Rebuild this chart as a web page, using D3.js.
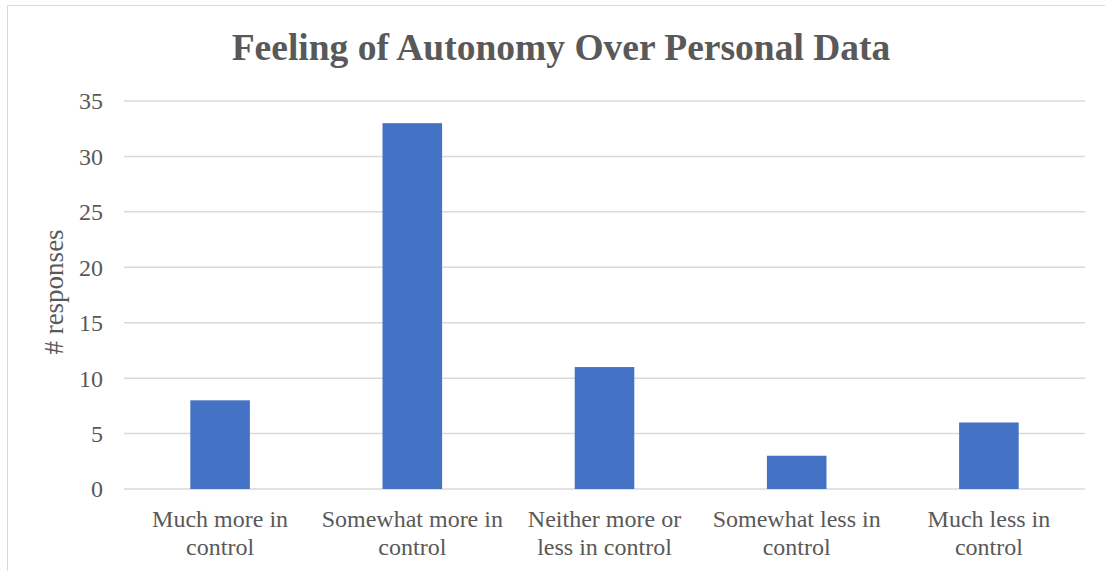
<!DOCTYPE html>
<html>
<head>
<meta charset="utf-8">
<script src="https://cdn.jsdelivr.net/npm/d3@7"></script>
<style>
  body { margin: 0; background: #fff; }
  svg text { font-family: "Liberation Serif", "Times New Roman", serif; fill: #595959; }
</style>
</head>
<body>
<svg width="1105" height="571"></svg>
<script>
const categories = [
  ["Much more in", "control"],
  ["Somewhat more in", "control"],
  ["Neither more or", "less in control"],
  ["Somewhat less in", "control"],
  ["Much less in", "control"]
];
const responses = [8, 33, 11, 3, 6];
const yTicks = [0, 5, 10, 15, 20, 25, 30, 35];

const svg = d3.select("svg"),
  margin = {top: 101, right: 20, bottom: 82, left: 124},
  width = 1085 - margin.left,
  height = 489 - margin.top;

// chart frame (cropped on the right and bottom)
svg.append("rect")
  .attr("x", 7.5).attr("y", 5.5)
  .attr("width", 1120).attr("height", 600)
  .attr("fill", "none")
  .attr("stroke", "#d9d9d9");

const x = d3.scaleBand().domain(d3.range(categories.length)).range([0, width]).paddingInner(0.69).paddingOuter(0.345),
  y = d3.scaleLinear().domain([0, 35]).range([height, 0]);

const g = svg.append("g")
  .attr("transform", "translate(" + margin.left + "," + margin.top + ")");

// gridlines
g.selectAll(".grid")
  .data(yTicks)
  .enter().append("line")
  .attr("x1", 0).attr("x2", width)
  .attr("y1", d => y(d)).attr("y2", d => y(d))
  .attr("stroke", "#d9d9d9")
  .attr("stroke-width", 1.5);

// y tick labels
g.selectAll(".ytick")
  .data(yTicks)
  .enter().append("text")
  .attr("x", -21)
  .attr("y", d => y(d))
  .attr("dy", "0.35em")
  .attr("text-anchor", "end")
  .attr("font-size", 24)
  .text(d => d);

// bars
g.selectAll(".bar")
  .data(responses)
  .enter().append("rect")
  .attr("class", "bar")
  .attr("x", (d, i) => x(i))
  .attr("y", d => y(d))
  .attr("width", x.bandwidth())
  .attr("height", d => height - y(d))
  .attr("fill", "#4472c4");

// category labels
const lbl = g.selectAll(".xlabel")
  .data(categories)
  .enter().append("text")
  .attr("text-anchor", "middle")
  .attr("font-size", 24)
  .attr("transform", (d, i) => "translate(" + (x(i) + x.bandwidth() / 2) + "," + (height + 38) + ")");
lbl.selectAll("tspan")
  .data(d => d)
  .enter().append("tspan")
  .attr("x", 0)
  .attr("dy", (d, i) => i === 0 ? 0 : 28)
  .text(d => d);

// y axis title
svg.append("text")
  .attr("transform", "translate(63,292) rotate(-90)")
  .attr("text-anchor", "middle")
  .attr("font-size", 27)
  .text("# responses");

// chart title
svg.append("text")
  .attr("x", 561)
  .attr("y", 60)
  .attr("text-anchor", "middle")
  .attr("font-size", 37.5)
  .attr("font-weight", "bold")
  .text("Feeling of Autonomy Over Personal Data");
</script>
</body>
</html>
